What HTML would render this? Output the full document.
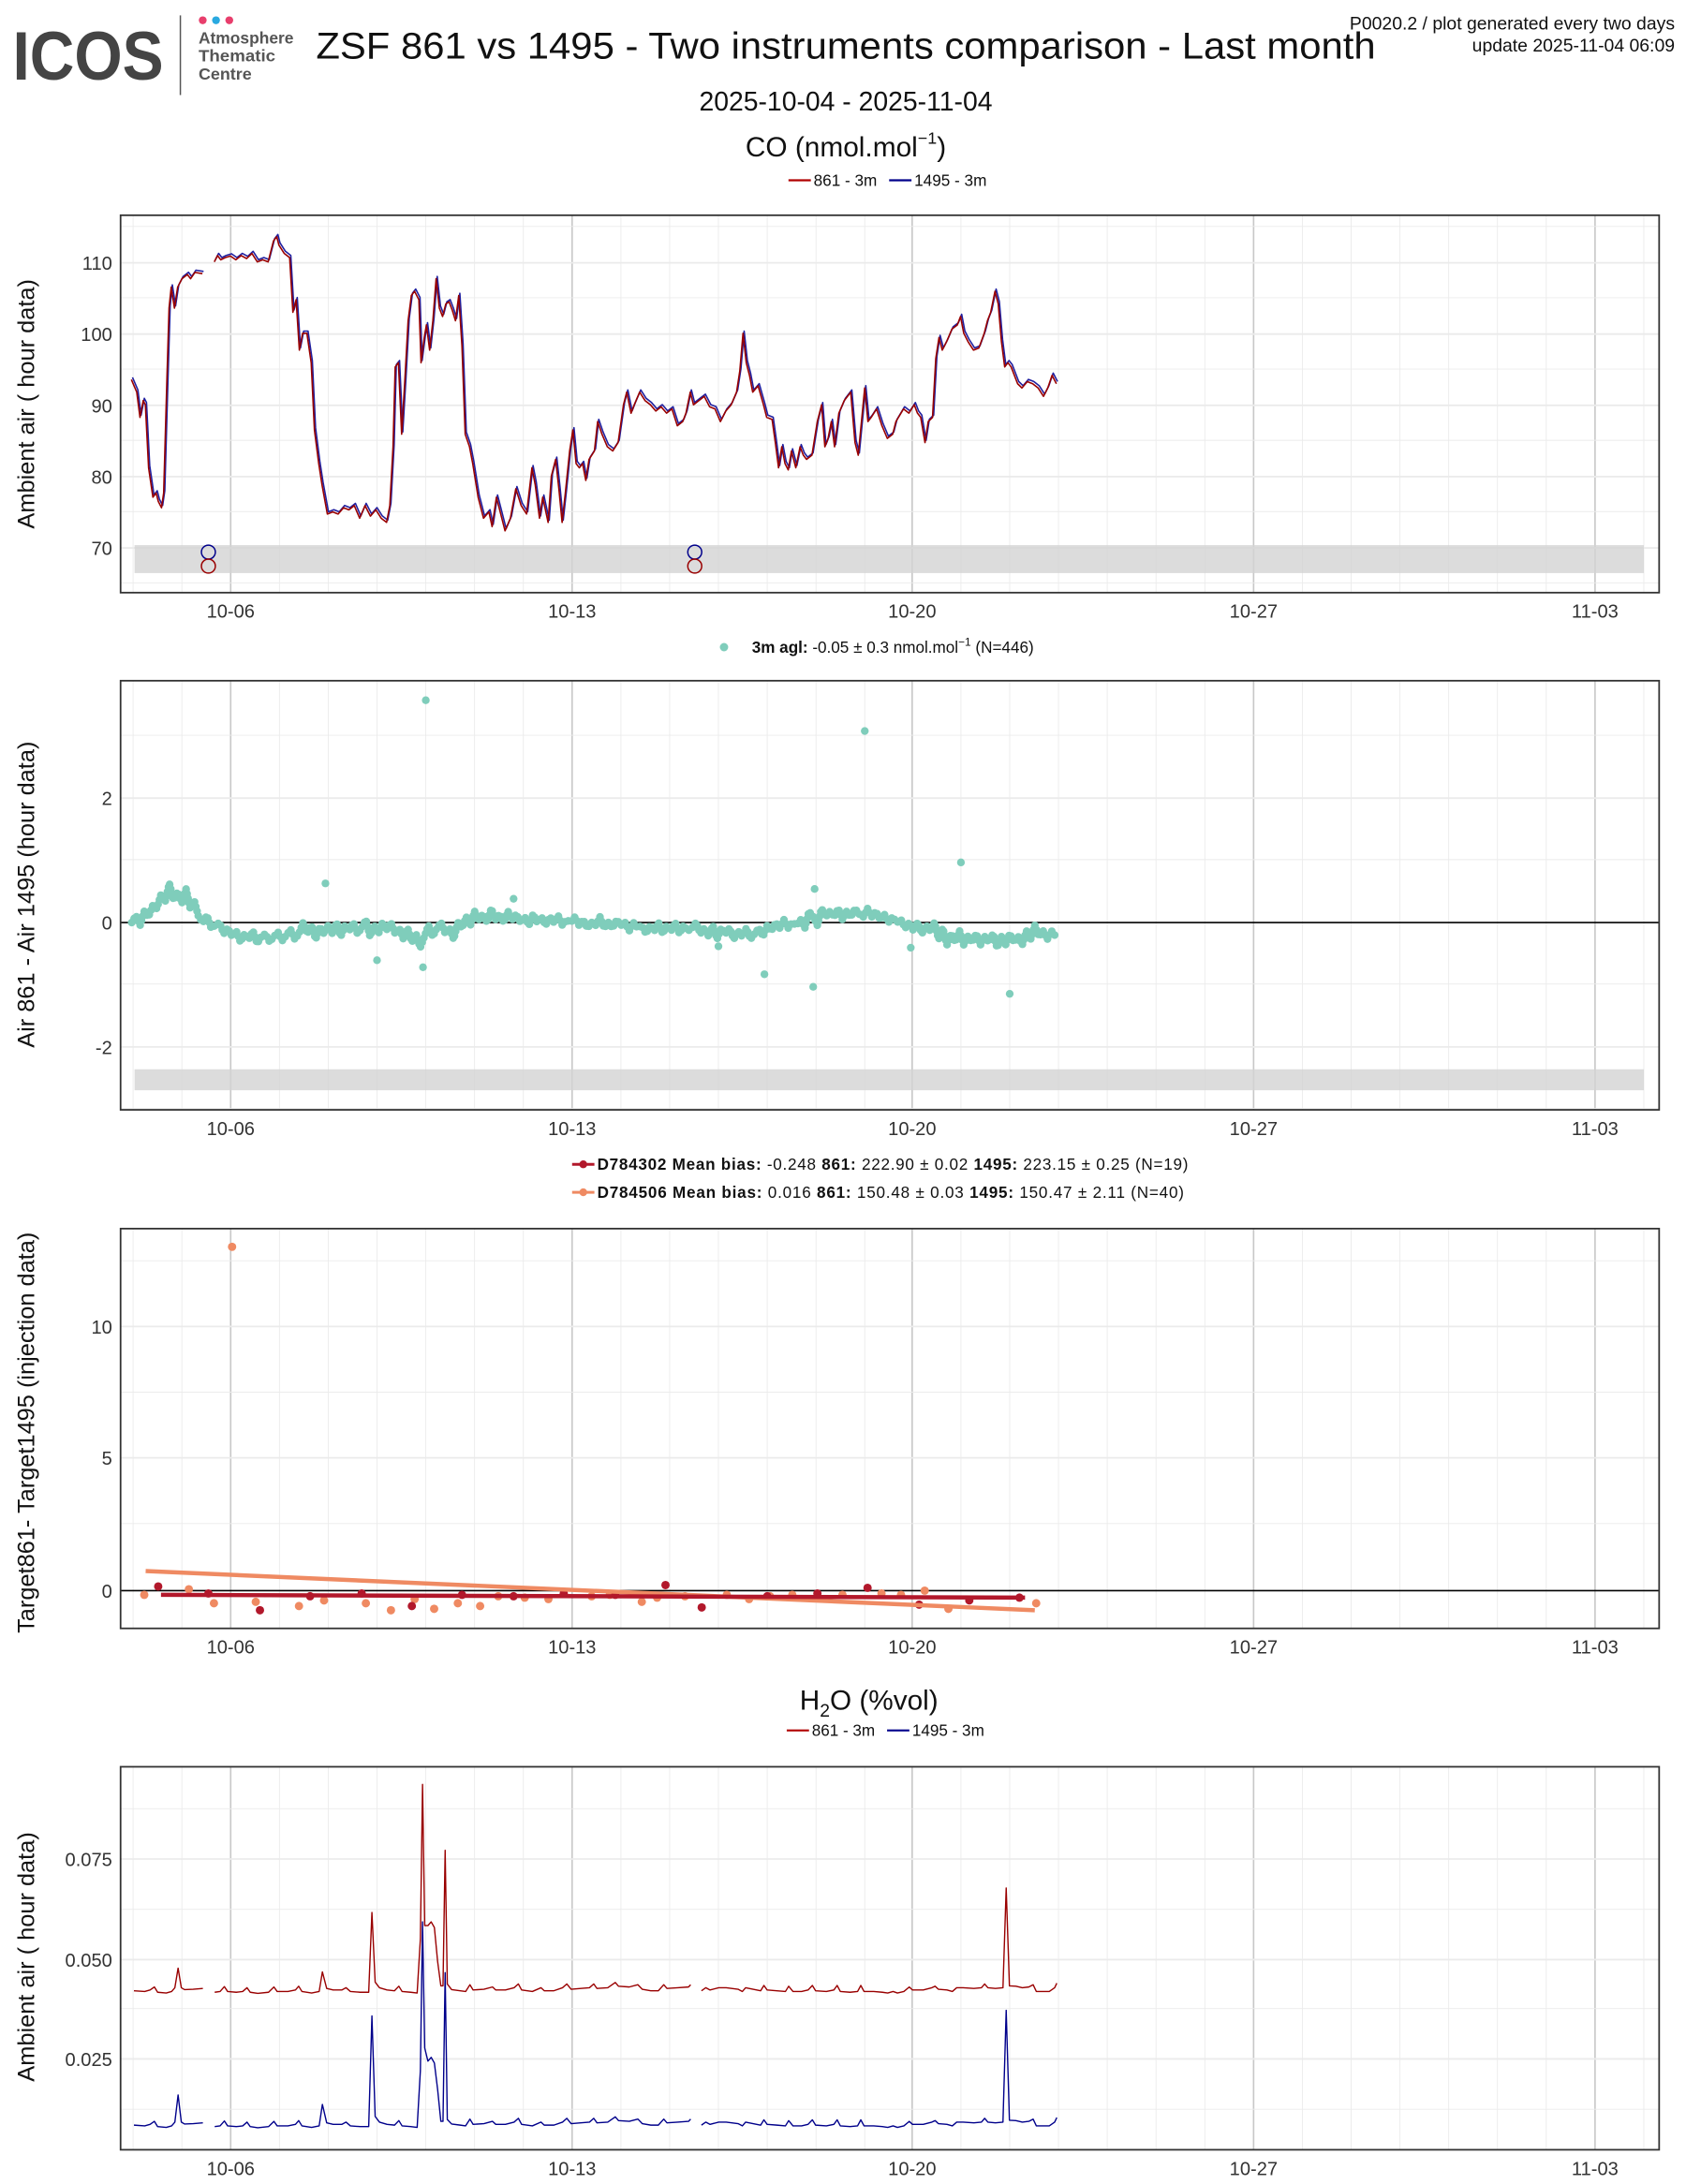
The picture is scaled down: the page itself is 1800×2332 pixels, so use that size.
<!DOCTYPE html>
<html><head><meta charset="utf-8"><style>html,body{margin:0;padding:0;background:#fff}svg{display:block}text{font-family:"Liberation Sans",sans-serif}</style></head><body>
<svg width="1800" height="2332" viewBox="0 0 1206 1562.5" xmlns="http://www.w3.org/2000/svg">
<defs>
<g id="vgrid">
<g stroke="#ebebeb" stroke-width="0.6">
<line x1="95" x2="95" y1="0" y2="1"/><line x1="130" x2="130" y1="0" y2="1"/><line x1="200" x2="200" y1="0" y2="1"/><line x1="235" x2="235" y1="0" y2="1"/><line x1="270" x2="270" y1="0" y2="1"/><line x1="305" x2="305" y1="0" y2="1"/><line x1="340" x2="340" y1="0" y2="1"/><line x1="375" x2="375" y1="0" y2="1"/><line x1="445" x2="445" y1="0" y2="1"/><line x1="480" x2="480" y1="0" y2="1"/><line x1="515" x2="515" y1="0" y2="1"/><line x1="550" x2="550" y1="0" y2="1"/><line x1="585" x2="585" y1="0" y2="1"/><line x1="620" x2="620" y1="0" y2="1"/><line x1="689" x2="689" y1="0" y2="1"/><line x1="724" x2="724" y1="0" y2="1"/><line x1="759" x2="759" y1="0" y2="1"/><line x1="794" x2="794" y1="0" y2="1"/><line x1="829" x2="829" y1="0" y2="1"/><line x1="864" x2="864" y1="0" y2="1"/><line x1="934" x2="934" y1="0" y2="1"/><line x1="969" x2="969" y1="0" y2="1"/><line x1="1004" x2="1004" y1="0" y2="1"/><line x1="1039" x2="1039" y1="0" y2="1"/><line x1="1074" x2="1074" y1="0" y2="1"/><line x1="1109" x2="1109" y1="0" y2="1"/><line x1="1179" x2="1179" y1="0" y2="1"/>
</g>
<g stroke="#c8c8c8" stroke-width="1.1">
<line x1="165" x2="165" y1="0" y2="1"/><line x1="410" x2="410" y1="0" y2="1"/><line x1="654" x2="654" y1="0" y2="1"/><line x1="899" x2="899" y1="0" y2="1"/><line x1="1144" x2="1144" y1="0" y2="1"/>
</g>
</g>
<g id="xlab" font-size="13.5" fill="#333" text-anchor="middle">
<text x="165">10-06</text><text x="410">10-13</text><text x="654">10-20</text><text x="899">10-27</text><text x="1144">11-03</text>
</g>
<path id="co" vector-effect="non-scaling-stroke" d="M123,900 L128,930 131,990 134,950 136,960 139,1110 143,1180 146,1170 148,1190 151,1205 153,1170 156,900 158,730 160,680 163,730 166,680 170,660 175,650 178,660 182,645 189,648 M200,620 L203,605 206,615 210,610 215,606 220,615 225,605 230,612 235,600 240,620 245,615 250,620 255,570 258,560 260,580 265,600 270,610 273,740 276,710 279,830 282,790 286,790 290,860 293,1020 297,1100 300,1150 305,1220 310,1215 315,1220 320,1205 325,1210 330,1200 335,1230 340,1200 345,1225 350,1210 355,1230 360,1240 363,1200 366,1060 368,870 371,860 374,1030 377,900 380,760 383,700 386,690 390,710 392,860 395,800 397,770 400,830 403,760 406,660 409,730 412,750 415,720 418,715 421,735 424,760 427,700 430,820 433,1030 437,1060 440,1100 445,1180 450,1230 455,1215 458,1250 462,1180 465,1210 470,1260 475,1230 480,1160 485,1200 490,1220 495,1110 498,1150 502,1230 505,1180 510,1240 513,1130 517,1090 520,1160 523,1240 526,1170 530,1070 533,1020 536,1100 539,1110 542,1100 545,1140 548,1090 553,1070 556,1000 560,1030 565,1060 570,1070 575,1050 580,960 583,930 587,980 590,960 595,930 600,950 605,960 610,975 615,965 620,980 625,970 630,1010 635,1000 638,980 642,930 645,960 650,950 655,940 660,965 665,970 670,1000 675,975 680,960 685,930 688,880 691,790 694,860 697,890 700,930 705,915 710,960 713,990 718,995 721,1050 724,1110 727,1060 730,1100 733,1115 736,1070 740,1110 744,1060 747,1080 750,1090 755,1080 760,1000 764,960 767,1060 770,1040 773,1000 776,1060 780,980 785,950 788,940 791,930 795,1050 798,1080 801,1000 804,920 807,1000 810,990 815,970 820,1010 825,1040 830,1030 833,1000 840,970 845,980 850,960 853,980 856,990 860,1050 863,1000 867,990 870,850 873,800 876,830 880,810 885,780 890,770 893,750 896,790 900,810 905,830 910,825 915,790 918,760 921,740 925,690 928,720 931,810 934,870 937,860 940,870 943,890 946,910 950,920 955,905 960,910 965,920 970,940 974,920 978,890 982,910"/>
</defs>

<!-- Header -->
<text x="9" y="57" font-size="49" font-weight="bold" fill="#444" textLength="108" lengthAdjust="spacingAndGlyphs">ICOS</text>
<line x1="129" y1="11" x2="129" y2="68" stroke="#555" stroke-width="1"/>
<circle cx="145" cy="14.5" r="2.8" fill="#e83e6c"/><circle cx="154.5" cy="14.5" r="2.8" fill="#29a9e0"/><circle cx="164" cy="14.5" r="2.8" fill="#e83e6c"/>
<g font-size="11.5" font-weight="bold" fill="#555"><text x="142" y="31" textLength="68" lengthAdjust="spacingAndGlyphs">Atmosphere</text><text x="142" y="44" textLength="55" lengthAdjust="spacingAndGlyphs">Thematic</text><text x="142" y="57" textLength="38" lengthAdjust="spacingAndGlyphs">Centre</text></g>
<text x="226" y="42" font-size="27" fill="#111" textLength="758" lengthAdjust="spacingAndGlyphs">ZSF 861 vs 1495 - Two instruments comparison - Last month</text>
<text x="1198" y="21" font-size="13" text-anchor="end" fill="#111">P0020.2 / plot generated every two days</text>
<text x="1198" y="37" font-size="13" text-anchor="end" fill="#111">update  2025-11-04 06:09</text>
<text x="605" y="79" font-size="19" text-anchor="middle" fill="#111">2025-10-04 - 2025-11-04</text>
<text x="605" y="112" font-size="20" text-anchor="middle" fill="#111">CO (nmol.mol<tspan font-size="12" dy="-9">−1</tspan><tspan dy="9">)</tspan></text>
<g font-size="11.5" fill="#111"><line x1="564" x2="580" y1="129" y2="129" stroke="#b00000" stroke-width="1.5"/><text x="582" y="133">861 - 3m</text><line x1="636" x2="652" y1="129" y2="129" stroke="#00008b" stroke-width="1.5"/><text x="654" y="133">1495 - 3m</text></g>

<g transform="translate(0.5,0) scale(0.9969,1)">
<!-- Panel 1 -->
<g>
<use href="#vgrid" transform="translate(0,154) scale(1,270)"/>
<g stroke="#ebebeb" stroke-width="0.6"><line x1="86" x2="1190" y1="162" y2="162"/><line x1="86" x2="1190" y1="213" y2="213"/><line x1="86" x2="1190" y1="264" y2="264"/><line x1="86" x2="1190" y1="315" y2="315"/><line x1="86" x2="1190" y1="366" y2="366"/><line x1="86" x2="1190" y1="417" y2="417"/></g>
<g stroke="#ebebeb" stroke-width="1.2"><line x1="86" x2="1190" y1="188" y2="188"/><line x1="86" x2="1190" y1="239" y2="239"/><line x1="86" x2="1190" y1="290" y2="290"/><line x1="86" x2="1190" y1="341" y2="341"/><line x1="86" x2="1190" y1="392" y2="392"/></g>
<rect x="96" y="390" width="1083" height="20" fill="#d3d3d3" fill-opacity="0.8"/>
<g transform="translate(-0.5,-0.6) scale(0.7727,0.3006)" fill="none" stroke="#2020a0" stroke-width="1.6" stroke-linejoin="round">
<use href="#co"/>
</g>
<g transform="translate(-1.3,1.0) scale(0.7727,0.3006)" fill="none" stroke="#990000" stroke-width="1.6" stroke-linejoin="round">
<use href="#co"/>
</g>
<g fill="none" stroke-width="1"><circle cx="149" cy="395" r="5" stroke="#00008b"/><circle cx="149" cy="405" r="5" stroke="#990000"/><circle cx="498" cy="395" r="5" stroke="#00008b"/><circle cx="498" cy="405" r="5" stroke="#990000"/></g>
<rect x="86" y="154" width="1104" height="270" fill="none" stroke="#333" stroke-width="1.2"/>
<g font-size="13.5" fill="#333" text-anchor="end"><text x="80" y="193">110</text><text x="80" y="244">100</text><text x="80" y="295">90</text><text x="80" y="346">80</text><text x="80" y="397">70</text></g>
<text transform="translate(24,289) rotate(-90)" font-size="17" text-anchor="middle" fill="#111">Ambient air ( hour data)</text>
<use href="#xlab" y="442"/>
</g>

<!-- Panel 2 -->
<circle cx="519" cy="463" r="3" fill="#7fcdbb"/>
<text x="539" y="467" font-size="11.5" fill="#111"><tspan font-weight="bold">3m agl:</tspan> -0.05 ± 0.3 nmol.mol<tspan font-size="8" dy="-5">−1</tspan><tspan dy="5">    (N=446)</tspan></text>
<g>
<use href="#vgrid" transform="translate(0,487) scale(1,307)"/>
<g stroke="#ebebeb" stroke-width="0.6"><line x1="86" x2="1190" y1="526" y2="526"/><line x1="86" x2="1190" y1="615" y2="615"/><line x1="86" x2="1190" y1="704" y2="704"/><line x1="86" x2="1190" y1="793" y2="793"/></g>
<g stroke="#ebebeb" stroke-width="1.2"><line x1="86" x2="1190" y1="571" y2="571"/><line x1="86" x2="1190" y1="749" y2="749"/></g>
<rect x="96" y="765" width="1083" height="15" fill="#d3d3d3" fill-opacity="0.8"/>
<line x1="86" x2="1190" y1="660" y2="660" stroke="#000" stroke-width="1.1"/>
<path d="M94,660 L97,655 100,662 103,652 106,656 109,648 112,650 115,640 118,645 121,632 124,644 127,638 130,646 133,636 136,650 139,645 142,656 145,660 148,655 151,664 154,662 157,660 160,668 163,664 166,670 169,666 172,674 175,668 178,672 181,666 184,675 187,670 190,668 193,674 196,670 199,667 202,673 205,669 208,665 211,672 214,668 217,660 220,668 223,662 226,672 229,663 232,668 235,662 238,668 241,660 244,670 247,662 250,666 253,660 256,668 259,664 262,658 265,670 268,662 271,668 274,660 277,665 280,660 283,668 286,664 289,672 292,664 295,674 298,668 301,678 304,670 307,662 310,670 313,664 316,660 319,668 322,664 325,672 328,660 331,664 334,656 337,662 340,652 343,658 346,654 349,660 352,650 355,658 358,654 361,660 364,652 367,658 370,654 373,660 376,656 379,662 382,654 385,660 388,656 391,662 394,656 397,660 400,655 403,662 406,658 409,660 412,656 415,662 418,658 421,664 424,660 427,662 430,656 433,664 436,660 439,664 442,658 445,662 448,660 451,666 454,660 457,664 460,662 463,668 466,662 469,666 472,660 475,668 478,662 481,666 484,660 487,668 490,662 493,666 496,664 499,660 502,668 505,664 508,670 511,662 514,672 517,664 520,668 523,664 526,672 529,666 532,670 535,664 538,672 541,668 544,664 547,670 550,662 553,666 556,660 559,664 562,658 565,664 568,660 571,662 574,658 577,664 580,652 583,656 586,662 589,650 592,656 595,652 598,656 601,650 604,658 607,652 610,656 613,650 616,654 619,656 622,650 625,656 628,652 631,658 634,654 637,660 640,656 643,660 646,658 649,664 652,660 655,666 658,660 661,668 664,662 667,666 670,660 673,672 676,664 679,676 682,668 685,674 688,666 691,676 694,670 697,674 700,668 703,676 706,670 709,674 712,668 715,678 718,670 721,676 724,668 727,674 730,670 733,676 736,666 739,672 742,662 745,670 748,666 751,672 754,666 757,670" fill="none" stroke="#7fcdbb" stroke-width="5.6" stroke-linecap="round" stroke-dasharray="0 3.4"/>
<g fill="#7fcdbb"><circle cx="305" cy="501" r="2.8"/><circle cx="620" cy="523" r="2.8"/><circle cx="689" cy="617" r="2.8"/><circle cx="233" cy="632" r="2.8"/><circle cx="584" cy="636" r="2.8"/><circle cx="270" cy="687" r="2.8"/><circle cx="303" cy="692" r="2.8"/><circle cx="548" cy="697" r="2.8"/><circle cx="583" cy="706" r="2.8"/><circle cx="653" cy="678" r="2.8"/><circle cx="724" cy="711" r="2.8"/><circle cx="368" cy="643" r="2.8"/><circle cx="515" cy="677" r="2.8"/></g>
<rect x="86" y="487" width="1104" height="307" fill="none" stroke="#333" stroke-width="1.2"/>
<g font-size="13.5" fill="#333" text-anchor="end"><text x="80" y="576">2</text><text x="80" y="665">0</text><text x="80" y="754">-2</text></g>
<text transform="translate(24,640) rotate(-90)" font-size="17" text-anchor="middle" fill="#111">Air 861 - Air 1495 (hour data)</text>
<use href="#xlab" y="812"/>
</g>

<!-- Panel 3 legend -->
<g font-size="11.5" fill="#111">
<line x1="410" x2="426" y1="833" y2="833" stroke="#b2182b" stroke-width="2"/><circle cx="418" cy="833" r="2.8" fill="#b2182b"/>
<text x="428" y="837" textLength="424" lengthAdjust="spacing"><tspan font-weight="bold">D784302  Mean bias:</tspan> -0.248   <tspan font-weight="bold">861:</tspan> 222.90 ± 0.02   <tspan font-weight="bold">1495:</tspan> 223.15 ± 0.25 (N=19)</text>
<line x1="410" x2="426" y1="853" y2="853" stroke="#ef8a62" stroke-width="2"/><circle cx="418" cy="853" r="2.8" fill="#ef8a62"/>
<text x="428" y="857" textLength="421" lengthAdjust="spacing"><tspan font-weight="bold">D784506  Mean bias:</tspan> 0.016   <tspan font-weight="bold">861:</tspan> 150.48 ± 0.03   <tspan font-weight="bold">1495:</tspan> 150.47 ± 2.11 (N=40)</text>
</g>
<!-- Panel 3 -->
<g>
<use href="#vgrid" transform="translate(0,879) scale(1,286)"/>
<g stroke="#ebebeb" stroke-width="0.6"><line x1="86" x2="1190" y1="902" y2="902"/><line x1="86" x2="1190" y1="996" y2="996"/><line x1="86" x2="1190" y1="1090" y2="1090"/></g>
<g stroke="#ebebeb" stroke-width="1.2"><line x1="86" x2="1190" y1="949" y2="949"/><line x1="86" x2="1190" y1="1043" y2="1043"/></g>
<line x1="86" x2="1190" y1="1138" y2="1138" stroke="#000" stroke-width="1.1"/>
<g fill="#ef8a62"><circle cx="166" cy="892" r="3"/><circle cx="103" cy="1141" r="3"/><circle cx="135" cy="1137" r="3"/><circle cx="153" cy="1147" r="3"/><circle cx="183" cy="1146" r="3"/><circle cx="214" cy="1149" r="3"/><circle cx="232" cy="1145" r="3"/><circle cx="262" cy="1147" r="3"/><circle cx="280" cy="1152" r="3"/><circle cx="297" cy="1144" r="3"/><circle cx="311" cy="1151" r="3"/><circle cx="328" cy="1147" r="3"/><circle cx="344" cy="1149" r="3"/><circle cx="357" cy="1142" r="3"/><circle cx="376" cy="1143" r="3"/><circle cx="393" cy="1144" r="3"/><circle cx="424" cy="1142" r="3"/><circle cx="437" cy="1141" r="3"/><circle cx="460" cy="1146" r="3"/><circle cx="471" cy="1143" r="3"/><circle cx="491" cy="1142" r="3"/><circle cx="521" cy="1141" r="3"/><circle cx="537" cy="1144" r="3"/><circle cx="552" cy="1142" r="3"/><circle cx="568" cy="1141" r="3"/><circle cx="604" cy="1141" r="3"/><circle cx="632" cy="1140" r="3"/><circle cx="646" cy="1141" r="3"/><circle cx="663" cy="1138" r="3"/><circle cx="680" cy="1151" r="3"/><circle cx="743" cy="1147" r="3"/></g>
<g fill="#b2182b"><circle cx="113" cy="1135" r="3"/><circle cx="149" cy="1140" r="3"/><circle cx="186" cy="1152" r="3"/><circle cx="222" cy="1142" r="3"/><circle cx="259" cy="1140" r="3"/><circle cx="295" cy="1149" r="3"/><circle cx="331" cy="1141" r="3"/><circle cx="368" cy="1142" r="3"/><circle cx="404" cy="1140" r="3"/><circle cx="441" cy="1141" r="3"/><circle cx="477" cy="1134" r="3"/><circle cx="503" cy="1150" r="3"/><circle cx="550" cy="1142" r="3"/><circle cx="586" cy="1140" r="3"/><circle cx="622" cy="1136" r="3"/><circle cx="659" cy="1148" r="3"/><circle cx="695" cy="1145" r="3"/><circle cx="731" cy="1143" r="3"/></g>
<line x1="104" y1="1124" x2="742" y2="1152" stroke="#ef8a62" stroke-width="3"/>
<line x1="115" y1="1141" x2="735" y2="1143" stroke="#b2182b" stroke-width="3"/>
<rect x="86" y="879" width="1104" height="286" fill="none" stroke="#333" stroke-width="1.2"/>
<g font-size="13.5" fill="#333" text-anchor="end"><text x="80" y="954">10</text><text x="80" y="1048">5</text><text x="80" y="1143">0</text></g>
<text transform="translate(24,1025) rotate(-90)" font-size="17" text-anchor="middle" fill="#111">Target861- Target1495 (injection data)</text>
<use href="#xlab" y="1183"/>
</g>

<!-- Panel 4 -->
<text x="623" y="1223" font-size="20" text-anchor="middle" fill="#111">H<tspan font-size="13" dy="5">2</tspan><tspan dy="-5">O (%vol)</tspan></text>
<g font-size="11.5" fill="#111"><line x1="564" x2="580" y1="1238" y2="1238" stroke="#b00000" stroke-width="1.5"/><text x="582" y="1242">861 - 3m</text><line x1="636" x2="652" y1="1238" y2="1238" stroke="#00008b" stroke-width="1.5"/><text x="654" y="1242">1495 - 3m</text></g>
<g>
<use href="#vgrid" transform="translate(0,1264) scale(1,274)"/>
<g stroke="#ebebeb" stroke-width="0.6"><line x1="86" x2="1190" y1="1294" y2="1294"/><line x1="86" x2="1190" y1="1366" y2="1366"/><line x1="86" x2="1190" y1="1437" y2="1437"/><line x1="86" x2="1190" y1="1509" y2="1509"/></g>
<g stroke="#ebebeb" stroke-width="1.2"><line x1="86" x2="1190" y1="1330" y2="1330"/><line x1="86" x2="1190" y1="1402" y2="1402"/><line x1="86" x2="1190" y1="1473" y2="1473"/></g>
<g transform="translate(-1,1144.7) scale(0.7727,0.2693)" fill="none" stroke-width="1.4" stroke-linejoin="round">
<path vector-effect="non-scaling-stroke" stroke="#990000" d="M125,1038 L135,1040 140,1036 144,1028 147,1042 155,1044 160,1040 163,1030 166,978 169,1030 172,1035 180,1034 189,1032 M200,1042 L205,1040 209,1027 212,1040 220,1042 226,1040 230,1030 233,1042 240,1045 250,1042 255,1028 258,1040 268,1040 275,1036 278,1026 281,1040 290,1044 297,1040 300,988 304,1032 310,1036 318,1036 322,1030 326,1040 335,1042 343,1042 346,830 349,1015 353,1030 360,1036 367,1038 371,1026 374,1040 382,1042 388,1044 391,900 393,490 395,865 398,865 401,855 404,870 407,960 410,1025 412,1025 414,665 416,1020 420,1035 428,1038 433,1040 437,1022 440,1036 450,1034 458,1028 461,1036 470,1036 478,1030 482,1020 485,1036 495,1040 503,1030 506,1038 515,1038 523,1030 527,1020 531,1034 540,1032 548,1030 552,1020 555,1032 565,1030 572,1016 575,1026 585,1028 593,1022 597,1034 605,1038 612,1038 617,1022 620,1032 630,1030 640,1028 642,1022 M652,1038 L656,1030 660,1036 668,1030 675,1030 686,1034 690,1040 693,1030 700,1034 707,1038 710,1024 713,1036 722,1038 730,1040 733,1026 737,1040 745,1040 751,1036 755,1024 758,1038 768,1040 775,1036 778,1024 781,1040 790,1042 797,1040 800,1024 803,1040 812,1040 820,1042 825,1044 830,1040 834,1044 840,1040 845,1028 848,1036 858,1036 866,1030 869,1026 872,1034 880,1036 885,1040 889,1030 895,1030 905,1032 912,1030 915,1020 918,1030 925,1032 932,1030 935,765 938,1025 944,1026 950,1030 956,1028 960,1022 963,1040 975,1040 980,1030 982,1018"/>
<path vector-effect="non-scaling-stroke" stroke="#00008b" d="M125,1395 L135,1397 140,1393 144,1385 147,1399 155,1401 160,1397 163,1387 166,1315 169,1387 172,1392 180,1391 189,1389 M200,1399 L205,1397 209,1384 212,1397 220,1399 226,1397 230,1387 233,1399 240,1402 250,1399 255,1385 258,1397 268,1397 275,1393 278,1383 281,1397 290,1401 297,1397 300,1340 304,1389 310,1393 318,1393 322,1387 326,1397 335,1399 343,1399 346,1105 349,1372 353,1387 360,1393 367,1395 371,1383 374,1397 382,1399 388,1401 391,1250 393,855 395,1190 398,1225 401,1215 404,1230 407,1300 410,1385 412,1385 414,990 416,1380 420,1392 428,1395 433,1397 437,1379 440,1393 450,1391 458,1385 461,1393 470,1393 478,1387 482,1377 485,1393 495,1397 503,1387 506,1395 515,1395 523,1387 527,1377 531,1391 540,1389 548,1387 552,1377 555,1389 565,1387 572,1373 575,1383 585,1385 593,1379 597,1391 605,1395 612,1395 617,1379 620,1389 630,1387 640,1385 642,1379 M652,1395 L656,1387 660,1393 668,1387 675,1387 686,1391 690,1397 693,1387 700,1391 707,1395 710,1381 713,1393 722,1395 730,1397 733,1383 737,1397 745,1397 751,1393 755,1381 758,1395 768,1397 775,1393 778,1381 781,1397 790,1399 797,1397 800,1381 803,1397 812,1397 820,1399 825,1401 830,1397 834,1401 840,1397 845,1385 848,1393 858,1393 866,1387 869,1383 872,1391 880,1393 885,1397 889,1387 895,1387 905,1389 912,1387 915,1377 918,1387 925,1389 932,1387 935,1090 938,1382 944,1383 950,1387 956,1385 960,1379 963,1397 975,1397 980,1387 982,1375"/>
</g>
<rect x="86" y="1264" width="1104" height="274" fill="none" stroke="#333" stroke-width="1.2"/>
<g font-size="13.5" fill="#333" text-anchor="end"><text x="80" y="1335">0.075</text><text x="80" y="1407">0.050</text><text x="80" y="1478">0.025</text></g>
<text transform="translate(24,1400) rotate(-90)" font-size="17" text-anchor="middle" fill="#111">Ambient air ( hour data)</text>
<use href="#xlab" y="1556"/>
</g>
</g>
</svg>
</body></html>
